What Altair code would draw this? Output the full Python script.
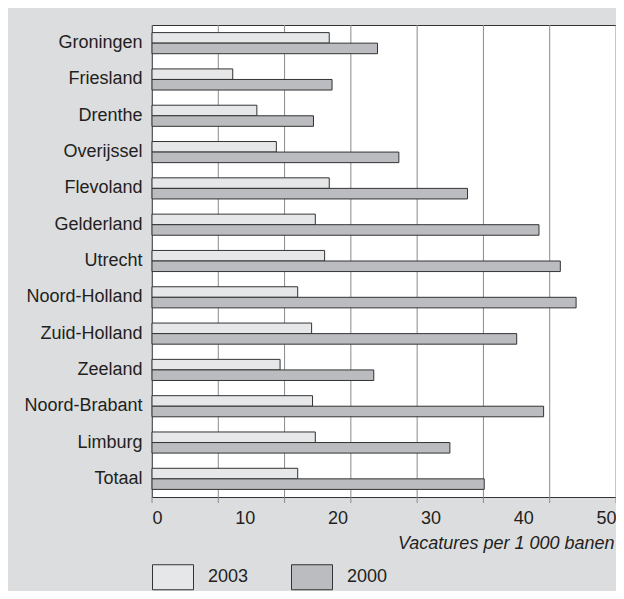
import altair as alt
import pandas as pd

regions = ["Groningen", "Friesland", "Drenthe", "Overijssel", "Flevoland", "Gelderland",
           "Utrecht", "Noord-Holland", "Zuid-Holland", "Zeeland", "Noord-Brabant",
           "Limburg", "Totaal"]
v2003 = [19.1, 8.7, 11.3, 13.4, 19.1, 17.6, 18.6, 15.7, 17.2, 13.8, 17.3, 17.6, 15.7]
v2000 = [24.3, 19.4, 17.4, 26.6, 34.0, 41.7, 44.0, 45.7, 39.3, 23.9, 42.2, 32.1, 35.8]
years = ["2003", "2000"]
x_ticks = [0, 10, 20, 30, 40, 50]
x_title = "Vacatures per 1 000 banen"

rows = []
for r, a, b in zip(regions, v2003, v2000):
    rows.append({"regio": r, "jaar": "2003", "waarde": a})
    rows.append({"regio": r, "jaar": "2000", "waarde": b})
df = pd.DataFrame(rows)

grid_df = pd.DataFrame({"g": [50 * k / 7 for k in range(8)]})

W, H = 464, 472
FONT = "Liberation Sans"
TXT = "#231f20"

x_scale = alt.Scale(domain=[0, 50], nice=False, zero=True)
x_axis = alt.Axis(values=x_ticks, grid=False, ticks=False, domain=True, domainColor="#333",
                  labelFontSize=18, labelFont=FONT, labelColor=TXT, labelPadding=12,
                  labelFlush=True,
                  title=x_title, titleFont=FONT, titleFontSize=18, titleFontStyle="italic",
                  titleFontWeight="normal", titleColor=TXT, titleAnchor="end", titleAlign="right",
                  titleX=W - 2, titleY=46, titleBaseline="middle")

rules = alt.Chart(grid_df).mark_rule(color="#8a8a8a", strokeWidth=1).encode(
    x=alt.X("g:Q", scale=x_scale, axis=x_axis),
    y=alt.value(0),
    y2=alt.value(H + 6),
)

bars = alt.Chart(df).mark_bar(stroke="#333333", strokeWidth=1).encode(
    x=alt.X("waarde:Q", scale=x_scale, axis=x_axis),
    y=alt.Y("regio:N", sort=regions,
            scale=alt.Scale(paddingInner=0, paddingOuter=0),
            axis=alt.Axis(title=None, ticks=False, domain=True, domainColor="#333",
                          labelFontSize=18, labelFont=FONT, labelColor=TXT, labelPadding=10)),
    yOffset=alt.YOffset("jaar:N", sort=years,
                        scale=alt.Scale(paddingInner=0, paddingOuter=0.72)),
    color=alt.Color("jaar:N", sort=years,
                    scale=alt.Scale(domain=years, range=["#e6e7e8", "#bbbcbf"]),
                    legend=alt.Legend(title=None, orient="none", legendX=0, legendY=531,
                                      direction="horizontal",
                                      symbolType="M-1,-0.61H1V0.61H-1Z", symbolSize=1681,
                                      symbolStrokeColor="#333", symbolStrokeWidth=1,
                                      labelFontSize=18, labelFont=FONT, labelColor=TXT,
                                      labelOffset=14, columnPadding=40, padding=0)),
)

chart = alt.layer(rules, bars).properties(
    width=W, height=H,
    background="#dcdddf",
    padding={"left": 144, "top": 17, "right": 0, "bottom": 94},
    autosize=alt.AutoSizeParams(type="none"),
).configure_view(fill="white", stroke="#333333", strokeWidth=1)

chart.save("out.html", embed_options={"renderer": "svg", "actions": False})
